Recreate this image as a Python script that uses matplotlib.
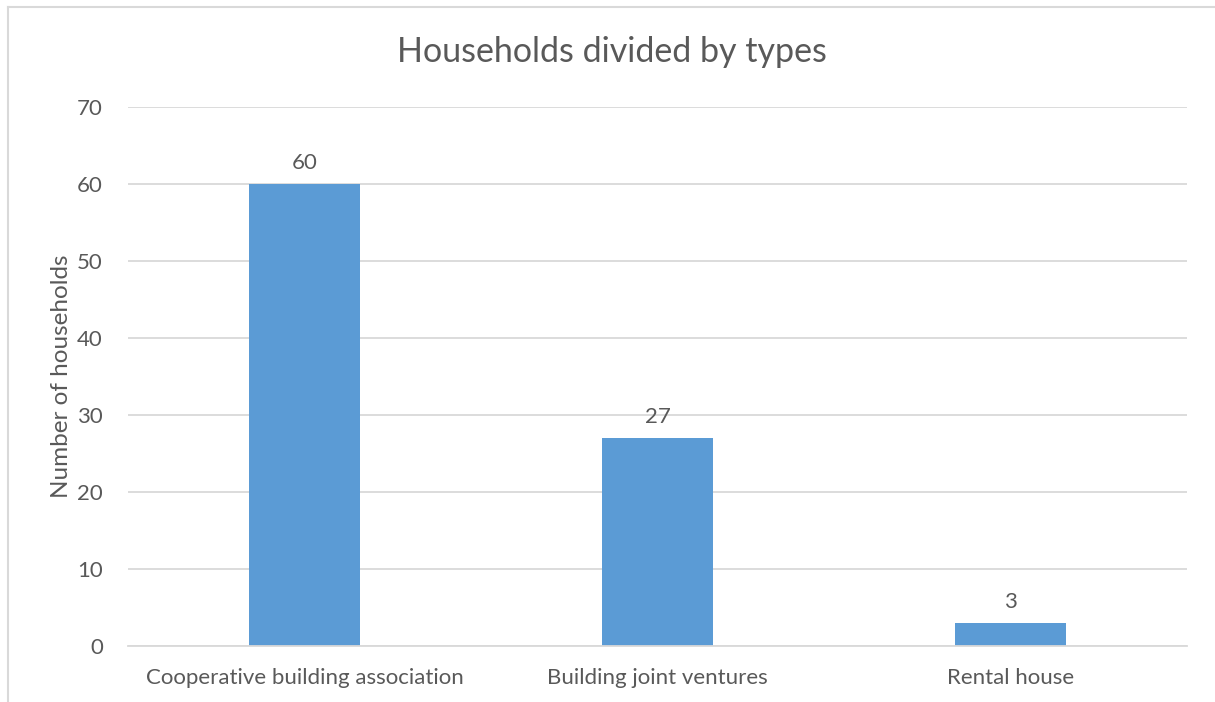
import matplotlib.pyplot as plt
from matplotlib.lines import Line2D

# household counts per housing type
categories = ["Cooperative building association", "Building joint ventures", "Rental house"]
households = [60, 27, 3]
yticks = [0, 10, 20, 30, 40, 50, 60, 70]

bar_color = "#5B9BD5"
text_color = "#595959"
grid_color = "#D9D9D9"

plt.rcParams["font.family"] = ["Lato", "DejaVu Sans"]

fig = plt.figure(figsize=(12.15, 7.02), dpi=100)
ax = fig.add_axes([128 / 1215, 1 - 646 / 702, (1187 - 128) / 1215, (646 - 107) / 702])

x = range(len(categories))
bars = ax.bar(x, households, width=0.315, color=bar_color, zorder=2)
for b, v in zip(bars, households):
    ax.annotate(str(v), (b.get_x() + b.get_width() / 2, v), xytext=(0, 8),
                textcoords="offset points", ha="center", va="bottom",
                fontsize=16, color=text_color)

ax.set_xlim(-0.5, len(categories) - 0.5)
ax.set_ylim(0, 70)
ax.set_yticks(yticks)
ax.set_xticks(list(x))
ax.set_xticklabels(categories)
ax.yaxis.grid(True, color=grid_color, lw=1.3, zorder=0)
ax.tick_params(axis="both", length=0, labelsize=16, labelcolor=text_color)
ax.tick_params(axis="y", pad=18)
ax.tick_params(axis="x", pad=16)
for s in ["top", "right", "left"]:
    ax.spines[s].set_visible(False)
ax.spines["bottom"].set_color(grid_color)
ax.spines["bottom"].set_linewidth(1.3)

ax.set_ylabel("Number of households", fontsize=17.5, color=text_color, labelpad=4)
fig.text(612 / 1215, 1 - 52 / 702, "Households divided by types", ha="center", va="center",
         fontsize=24.5, color=text_color)

# chart frame: only the left and top edges fall inside the image
fx, fy = 8 / 1215, 1 - 7 / 702
fig.add_artist(Line2D([fx, fx], [0, fy], transform=fig.transFigure, color=grid_color, lw=1.5))
fig.add_artist(Line2D([fx, 1], [fy, fy], transform=fig.transFigure, color=grid_color, lw=1.5))

fig.savefig("out.png", dpi=100)
